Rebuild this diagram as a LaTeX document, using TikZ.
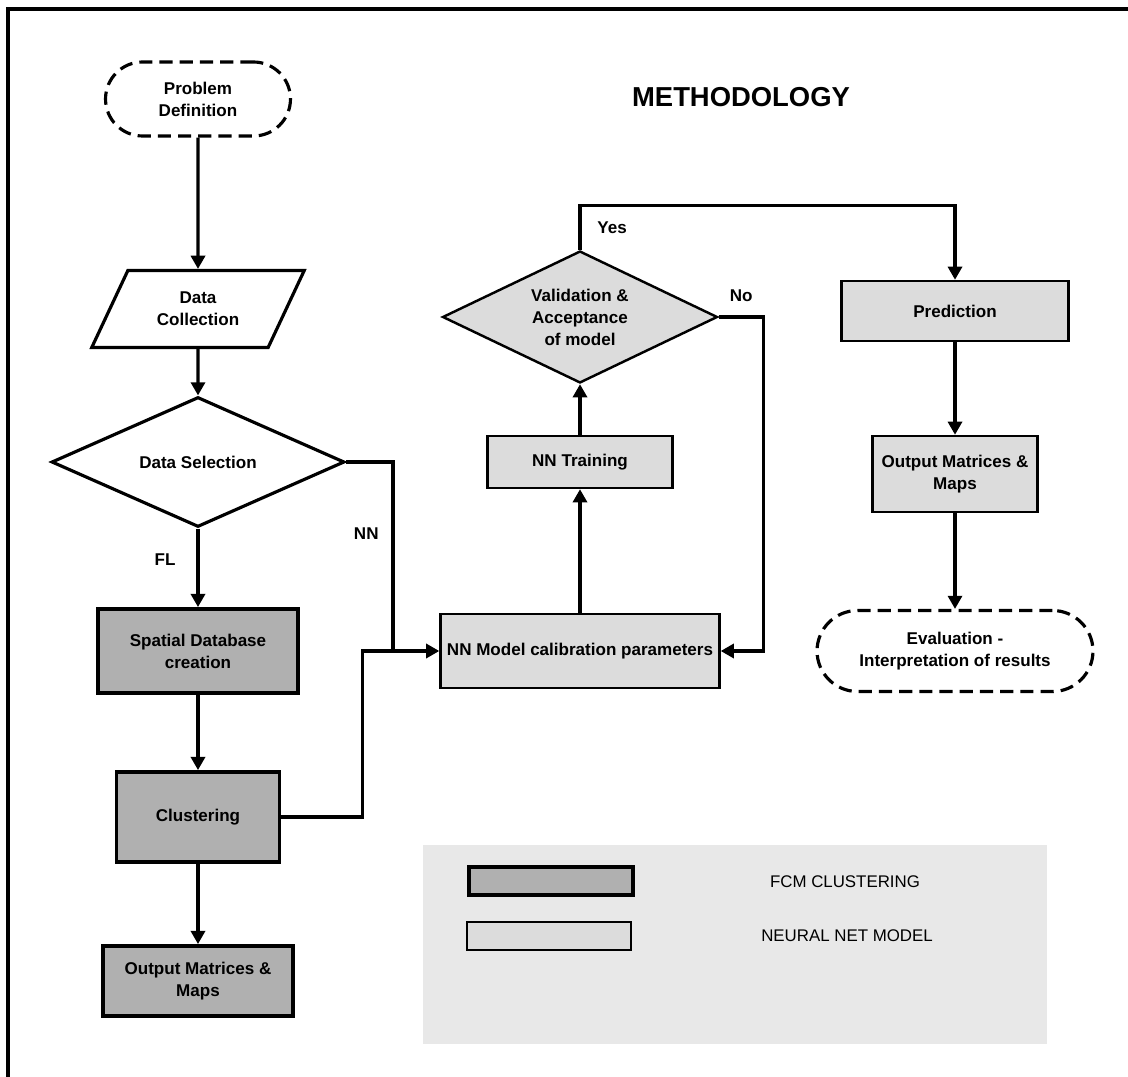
\documentclass[tikz,border=0pt]{standalone}
\usepackage{fontspec}
\setmainfont{Liberation Sans}
\usetikzlibrary{shapes.geometric,arrows.meta}

\definecolor{fcmgray}{HTML}{B0B0B0}
\definecolor{nngray}{HTML}{DCDCDC}
\definecolor{keygray}{HTML}{E8E8E8}

\tikzset{
  every node/.style={font=\fontsize{9.7}{12.5}\selectfont\bfseries, align=center},
  flow/.style={line width=1.8pt, -{Triangle[length=7.5pt,width=8pt]}},
  wire/.style={line width=1.8pt},
  terminal/.style={draw, line width=1.8pt, dash pattern=on 7.5pt off 4pt, rounded corners=#1},
  datain/.style={trapezium, trapezium left angle=62, trapezium right angle=118,
    trapezium stretches=true, draw, line width=1.8pt},
  decision/.style={diamond, shape aspect=2, draw, inner sep=0pt},
  fcmbox/.style={draw, line width=2.2pt, fill=fcmgray},
  nnbox/.style={draw, line width=1.4pt, fill=nngray},
  keytext/.style={font=\fontsize{9.6}{11.5}\selectfont\mdseries}
}

\begin{document}
\begin{tikzpicture}[x=0.02cm, y=-0.02cm]
  \useasboundingbox (0,0) rectangle (1128,1077);
  \draw[line width=2.3pt] (8,1077) -- (8,9) -- (1128,9);

  \node[font=\fontsize{15.6}{18}\selectfont\bfseries] (title) at (741,97) {METHODOLOGY};

  % left column
  \node[terminal=0.74cm, minimum width=3.7cm, minimum height=1.48cm] (prob) at (198,99) {Problem\\Definition};
  \node[datain, minimum width=4.26cm, minimum height=1.54cm] (coll) at (198,309) {Data\\Collection};
  \node[decision, line width=1.8pt, minimum width=5.86cm, minimum height=2.6cm] (sel) at (198,462) {Data Selection};
  \node[fcmbox, minimum width=4cm, minimum height=1.68cm] (spat) at (198,651) {Spatial Database\\creation};
  \node[fcmbox, minimum width=3.26cm, minimum height=1.8cm] (clust) at (198,817) {Clustering};
  \node[fcmbox, minimum width=3.8cm, minimum height=1.4cm] (outL) at (198,981) {Output Matrices \&\\Maps};

  % neural net part
  \node[nnbox, minimum width=5.58cm, minimum height=1.48cm] (model) at (580,651) {NN Model calibration parameters};
  \node[nnbox, minimum width=3.7cm, minimum height=1.04cm] (train) at (580,462) {NN Training};
  \node[decision, fill=nngray, line width=1.4pt, minimum width=5.5cm, minimum height=2.64cm] (val) at (580,317) {Validation \&\\Acceptance\\of model};

  \node[nnbox, minimum width=4.54cm, minimum height=1.2cm] (pred) at (955,311) {Prediction};
  \node[nnbox, minimum width=3.3cm, minimum height=1.52cm] (outR) at (955,474) {Output Matrices \&\\Maps};
  \node[terminal=0.81cm, minimum width=5.52cm, minimum height=1.62cm] (eval) at (955,651) {Evaluation -\\Interpretation of results};

  % connectors
  \draw[flow] (prob) -- (coll);
  \draw[flow] (coll) -- (sel);
  \draw[flow] (sel) -- node[pos=0.4, left=0.3cm] {FL} (spat);
  \draw[flow] (spat) -- (clust);
  \draw[flow] (clust) -- (outL);

  \coordinate (nnjoin) at (393,651);
  \draw[wire] (sel.east) -| node[pos=0.69, left=0.14cm] {NN} (nnjoin);
  \draw[wire] (clust.east) -- ++(81,0) |- (nnjoin);
  \draw[flow] (nnjoin) -- (model.west);

  \draw[flow] (model) -- (train);
  \draw[flow] (train) -- (val);
  \draw[flow] (val.north) -- node[right=0.2cm] {Yes} ++(0,-44) -| (pred.north);
  \draw[flow] (val.east) -- node[above=0.15cm] {No} ++(45,0) |- (model.east);
  \draw[flow] (pred) -- (outR);
  \draw[flow] (outR) -- (eval);

  % legend
  \fill[keygray] (423,845) rectangle (1047,1044);
  \node[fcmbox, minimum width=3.28cm, minimum height=0.56cm] (keyfcm) at (551,881) {};
  \node[nnbox, line width=1.6pt, minimum width=3.28cm, minimum height=0.56cm] (keynn) at (549,936) {};
  \node[keytext] (keyfcmtext) at (845,882) {FCM CLUSTERING};
  \node[keytext] (keynntext) at (847,936) {NEURAL NET MODEL};
\end{tikzpicture}
\end{document}
